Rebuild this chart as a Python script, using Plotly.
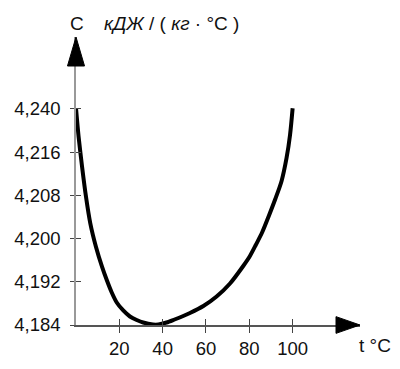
import plotly.graph_objects as go

# Data
temperature = [0, 1.2, 2.8, 4.6, 6.6, 9.2, 12, 14.2, 16.5, 18.8, 21.8, 24.9, 28, 31,
               35.5, 38, 41.8, 45.5, 49.5, 52.6, 58.8, 64.9, 71.1, 77.2, 80.3, 83,
               86, 89, 92, 94.9, 97.2, 98.8, 100]
heat_capacity = [4.22413, 4.21887, 4.21332, 4.20780, 4.20283, 4.19850, 4.19480,
                 4.19233, 4.19002, 4.18817, 4.18669, 4.18557, 4.18493, 4.18446,
                 4.18409, 4.18409, 4.18446, 4.18502, 4.18567, 4.18622, 4.18752,
                 4.18928, 4.19169, 4.19493, 4.19678, 4.19882, 4.20122, 4.20419,
                 4.20733, 4.21067, 4.21493, 4.21919, 4.22413]

x_tick_vals = [20, 40, 60, 80, 100]
x_tick_text = ["20", "40", "60", "80", "100"]
y_tick_vals = [4.184, 4.192, 4.200, 4.208, 4.216, 4.224]
y_tick_text = ["4,184", "4,192", "4,200", "4,208", "4,216", "4,240"]

FONT = "Liberation Sans, Arial, sans-serif"
X_RANGE = [0, 131.1]
Y_RANGE = [4.184, 4.23733]

fig = go.Figure()
fig.add_trace(go.Scatter(
    x=temperature, y=heat_capacity, mode="lines",
    line=dict(color="black", width=4, shape="spline", smoothing=0.8),
    cliponaxis=False, showlegend=False, hoverinfo="skip",
))
# invisible trace to carry the second (inside-tick) axes
fig.add_trace(go.Scatter(x=[None], y=[None], xaxis="x2", yaxis="y2",
                         showlegend=False, hoverinfo="skip"))

common_tick = dict(tickfont=dict(family=FONT, size=18.5, color="#111"),
                   showgrid=False, zeroline=False, automargin=False)

fig.update_layout(
    width=400, height=369,
    margin=dict(l=68, r=48, t=29, b=52),
    paper_bgcolor="white", plot_bgcolor="white",
    xaxis=dict(range=X_RANGE, tickvals=x_tick_vals, ticktext=x_tick_text,
               ticks="outside", ticklen=6, tickwidth=1, tickcolor="#444",
               showline=True, linecolor="#555", linewidth=1.5,
               ticklabelstandoff=0, **common_tick),
    yaxis=dict(range=Y_RANGE, tickvals=y_tick_vals, ticktext=y_tick_text,
               ticks="outside", ticklen=4, tickwidth=1, tickcolor="#444",
               showline=True, linecolor="#999", linewidth=1.5,
               ticklabelstandoff=6, **common_tick),
    xaxis2=dict(range=X_RANGE, overlaying="x", anchor="y2", side="bottom",
                tickvals=x_tick_vals, ticks="inside", ticklen=6, tickwidth=1,
                tickcolor="#444", showticklabels=False, showline=False,
                showgrid=False, zeroline=False, automargin=False),
    yaxis2=dict(range=Y_RANGE, overlaying="y", anchor="x2", side="left",
                tickvals=y_tick_vals, ticks="inside", ticklen=5, tickwidth=1,
                tickcolor="#444", showticklabels=False, showline=False,
                showgrid=False, zeroline=False, automargin=False),
    shapes=[
        # arrowhead of the vertical axis
        dict(type="path", xref="paper", yref="paper",
             path="M -0.03,0.8993 L 0.03,0.8993 L 0,1 Z",
             fillcolor="black", line=dict(color="black", width=1)),
        # arrowhead of the horizontal axis
        dict(type="path", xref="paper", yref="paper",
             path="M 0.9155,-0.029 L 0.9155,0.029 L 1,0 Z",
             fillcolor="black", line=dict(color="black", width=1)),
    ],
    annotations=[
        dict(text="C", xref="paper", yref="paper", x=0, xshift=1, y=1, yshift=14,
             showarrow=False, xanchor="center", yanchor="middle",
             font=dict(family=FONT, size=19, color="#111")),
        dict(text="<i>кДЖ</i> / ( <i>кг</i> · °С )", xref="paper", yref="paper",
             x=0, xshift=26, y=1, yshift=14, showarrow=False,
             xanchor="left", yanchor="middle",
             font=dict(family=FONT, size=19, color="#111")),
        dict(text="t °C", xref="paper", yref="paper", x=1, xshift=-3, y=0,
             yshift=-20, showarrow=False, xanchor="left", yanchor="middle",
             font=dict(family=FONT, size=19, color="#111")),
    ],
)

fig.write_html("out.html")
